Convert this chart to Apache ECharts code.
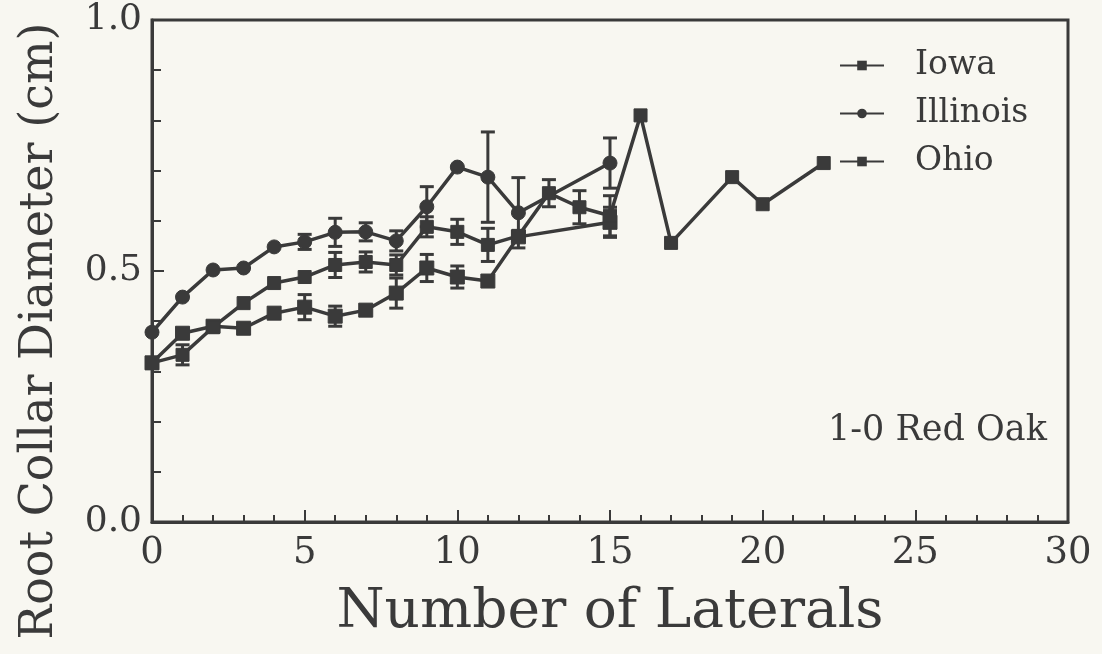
<!DOCTYPE html>
<html>
<head>
<meta charset="utf-8">
<script src="https://cdn.jsdelivr.net/npm/echarts@6/dist/echarts.min.js"></script>
<style>
html,body{margin:0;padding:0;background:#f8f7f1;}
#chart{width:1102px;height:654px;}
</style>
</head>
<body>
<div id="chart"></div>
<script>
// ---- data ----
const iowaX   = [0, 1, 2, 3, 4, 5, 6, 7, 8, 9, 10, 11, 12, 15];
const iowaY   = [0.317, 0.376, 0.390, 0.386, 0.416, 0.428, 0.410, 0.422, 0.456, 0.506, 0.488, 0.480, 0.568, 0.597];
const iowaErr = [0, 0, 0, 0, 0, 0.025, 0.02, 0, 0.03, 0.027, 0.022, 0, 0, 0.03];

const illX   = [0, 1, 2, 3, 4, 5, 6, 7, 8, 9, 10, 11, 12, 15];
const illY   = [0.378, 0.448, 0.502, 0.506, 0.548, 0.558, 0.577, 0.578, 0.560, 0.628, 0.707, 0.687, 0.616, 0.715];
const illErr = [0, 0, 0, 0, 0, 0.015, 0.028, 0.018, 0.02, 0.04, 0, 0.09, 0.07, 0.05];

const ohioX   = [0, 1, 2, 3, 4, 5, 6, 7, 8, 9, 10, 11, 12, 13, 14, 15, 16, 17, 19, 20, 22];
const ohioY   = [0.317, 0.333, 0.388, 0.436, 0.476, 0.488, 0.512, 0.518, 0.512, 0.588, 0.578, 0.552, 0.570, 0.655, 0.627, 0.610, 0.810, 0.556, 0.687, 0.633, 0.715];
const ohioErr = [0, 0.02, 0, 0, 0, 0, 0.025, 0.02, 0.02, 0.02, 0.025, 0.033, 0, 0.027, 0.033, 0.04, 0, 0, 0, 0, 0];

const xTicks = [0, 5, 10, 15, 20, 25, 30];
const yTicks = [0.0, 0.5, 1.0];

const ink = '#3a3a3a';
const font = 'DejaVu Serif';

function pts(xs, ys){ return xs.map((x,i)=>[x, ys[i]]); }
function errs(xs, ys, es){
  const out = [];
  xs.forEach((x,i)=>{ if (es[i] > 0) out.push([x, ys[i]-es[i], ys[i]+es[i]]); });
  return out;
}
function errSeries(data){
  return {
    type: 'custom',
    data: data,
    silent: true,
    z: 3,
    renderItem: function(params, api){
      const x = api.value(0);
      const lo = api.coord([x, api.value(1)]);
      const hi = api.coord([x, api.value(2)]);
      const w = 7;
      const st = {stroke: ink, lineWidth: 3};
      return {type:'group', children:[
        {type:'line', shape:{x1:lo[0], y1:lo[1], x2:hi[0], y2:hi[1]}, style: st},
        {type:'line', shape:{x1:lo[0]-w, y1:lo[1], x2:lo[0]+w, y2:lo[1]}, style: st},
        {type:'line', shape:{x1:hi[0]-w, y1:hi[1], x2:hi[0]+w, y2:hi[1]}, style: st}
      ]};
    }
  };
}
function lineSeries(name, data, symbol, size){
  return {
    name: name, type: 'line', data: data,
    symbol: symbol, symbolSize: size,
    lineStyle: {color: ink, width: 3.5},
    itemStyle: {color: ink, borderColor: ink},
    z: 4
  };
}

const chart = echarts.init(document.getElementById('chart'));
chart.setOption({
  backgroundColor: '#f8f7f1',
  animation: false,
  grid: {left: 152, right: 34, top: 20, bottom: 132, show: true, borderColor: ink, borderWidth: 3},
  xAxis: {
    type: 'value', min: 0, max: 30, interval: 5,
    axisLine: {show: true, lineStyle: {color: ink, width: 3}},
    axisTick: {show: true, inside: true, length: 12, lineStyle: {color: ink, width: 2}},
    minorTick: {show: true, splitNumber: 5, length: 7, lineStyle: {color: ink, width: 2}},
    splitLine: {show: false},
    axisLabel: {color: ink, fontSize: 37, fontFamily: font, margin: 13,
      formatter: v => xTicks.includes(v) ? String(v) : ''},
    name: 'Number of Laterals', nameLocation: 'middle', nameGap: 63,
    nameTextStyle: {color: ink, fontSize: 55, fontFamily: font}
  },
  yAxis: {
    type: 'value', min: 0, max: 1, interval: 0.5,
    axisLine: {show: true, lineStyle: {color: ink, width: 3}},
    axisTick: {show: true, inside: true, length: 12, lineStyle: {color: ink, width: 2}},
    minorTick: {show: true, splitNumber: 5, length: 9, lineStyle: {color: ink, width: 2}},
    splitLine: {show: false},
    axisLabel: {color: ink, fontSize: 36, fontFamily: font, margin: 10,
      formatter: v => yTicks.some(t => Math.abs(t-v) < 1e-9) ? v.toFixed(1) : ''}
  },
  legend: {
    orient: 'vertical', left: 834, top: 44, itemWidth: 44, itemHeight: 12, itemGap: 15,
    textStyle: {color: ink, fontSize: 33, fontFamily: font, padding: [0,0,0,26]},
    data: ['Iowa', 'Illinois', 'Ohio']
  },
  graphic: [
    {type: 'text', left: 828, top: 413,
     style: {text: '1-0 Red Oak', fill: ink, font: '35px "DejaVu Serif"'}},
    {type: 'text', x: 17, y: 331, rotation: Math.PI/2,
     style: {text: 'Root Collar Diameter (cm)', fill: ink, font: '46px "DejaVu Serif"', align: 'center', verticalAlign: 'top'}}
  ],
  series: [
    lineSeries('Iowa', pts(iowaX, iowaY), 'rect', 14),
    lineSeries('Illinois', pts(illX, illY), 'circle', 14),
    lineSeries('Ohio', pts(ohioX, ohioY), 'rect', 13),
    errSeries(errs(iowaX, iowaY, iowaErr)),
    errSeries(errs(illX, illY, illErr)),
    errSeries(errs(ohioX, ohioY, ohioErr))
  ]
});
</script>
</body>
</html>
